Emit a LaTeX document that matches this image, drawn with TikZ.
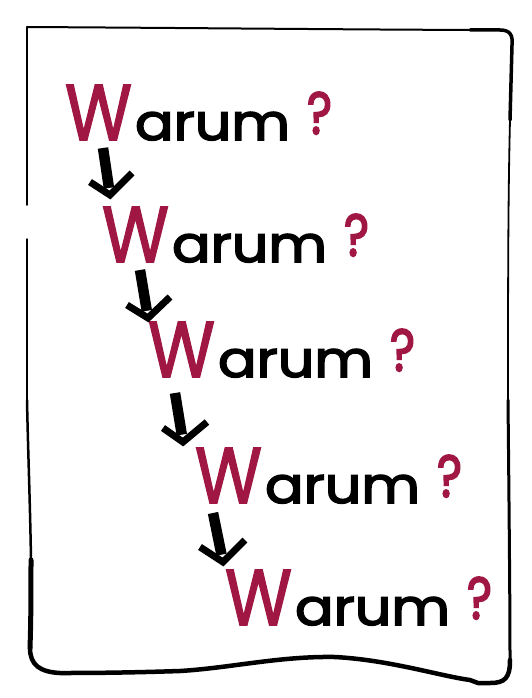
\documentclass[tikz,border=0pt]{standalone}
\usepackage{fontspec}
\setmainfont{Poppins}
\newfontfamily\wfont{Poppins}[FakeBold=2]
\newfontfamily\afont{Poppins}[FakeBold=3]
\usepackage{graphicx}
\usetikzlibrary{calc}
\definecolor{wred}{HTML}{A01744}
\tikzset{
  wtext/.style={anchor=base west, inner sep=0pt, outer sep=0pt, font=\wfont},
  atext/.style={anchor=base west, inner sep=0pt, outer sep=0pt, font=\afont},
  shaft/.style={line width=10.5pt, line cap=butt},
  barb/.style={line width=7pt, line cap=butt, line join=miter},
  frame/.style={line cap=round, line join=round, black},
}
\newcommand{\wline}[3]{%
  \node[wtext] (w#1) at (#2,#3) {\resizebox{67pt}{55pt}{\color{wred}W}};
  \node[atext] (a#1) at (#2+70,#3) {\resizebox{155pt}{28pt}{arum}};
  \node[atext] (q#1) at (#2+242,#3-6) {\resizebox{25pt}{42pt}{\color{wred}?}};
}
\begin{document}
\begin{tikzpicture}[x=1pt,y=-1pt]
\useasboundingbox (0,0) rectangle (532,698);
% frame
\draw[frame, line width=2pt] (27,27) .. controls (200,28) and (400,30) .. (500,30);
\draw[frame, line width=3.5pt] (470,30) -- (500,30) .. controls (510,30) and (513,35) .. (512,45) -- (510,120);
\draw[frame, line width=1.8pt] (510,120) .. controls (508,200) and (508,300) .. (508,400);
\draw[frame, line width=3pt] (508,400) .. controls (509,500) and (510,600) .. (510,660);
\draw[frame, line width=4.5pt] (510,660) .. controls (510,678) and (505,683) .. (490,683) -- (478,683) -- (470,680)
  .. controls (440,676) and (390,660) .. (335,657) .. controls (280,656) and (230,668) .. (180,671)
  .. controls (120,673) and (80,673) .. (60,673) .. controls (40,672) and (30,665) .. (30,648);
\draw[frame, line width=5pt] (30,648) .. controls (31,620) and (31,590) .. (31,560);
\draw[frame, line width=2.5pt] (31,560) .. controls (30,500) and (28,450) .. (27,400);
\draw[frame, line width=1.4pt] (27,400) -- (27,239);
\draw[frame, line width=1.8pt] (27,205) -- (27,32) -- (27,27);
% lines of text
\wline{1}{65}{140}
\wline{2}{102}{262}
\wline{3}{148}{377}
\wline{4}{195}{503}
\wline{5}{225}{625}
% arrows
\coordinate (s1) at (103,148); \coordinate (t1) at (110,195); \coordinate (l1) at (90,182); \coordinate (r1) at (132,173);
\coordinate (s2) at (140,270); \coordinate (t2) at (148,318); \coordinate (l2) at (127,305); \coordinate (r2) at (170,297);
\coordinate (s3) at (175,393); \coordinate (t3) at (183,442); \coordinate (l3) at (163,428); \coordinate (r3) at (207,422);
\coordinate (s4) at (213,513); \coordinate (t4) at (223,562); \coordinate (l4) at (200,547); \coordinate (r4) at (245,540);
\foreach \i in {1,2,3,4} {
  \draw[shaft] (s\i) -- ($(s\i)!0.85!(t\i)$);
  \draw[barb] (l\i) -- (t\i) -- (r\i);
}
\end{tikzpicture}
\end{document}
